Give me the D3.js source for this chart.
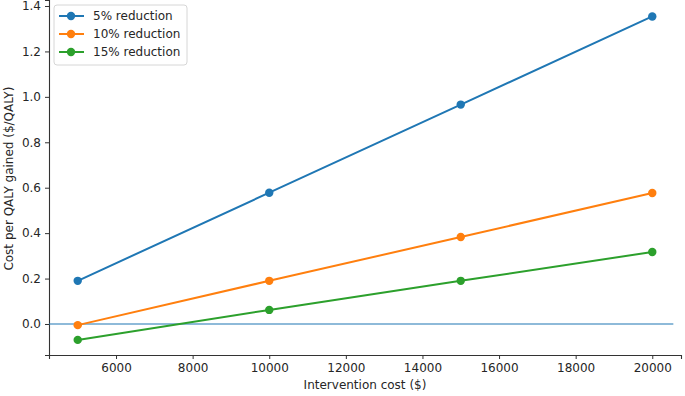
<!DOCTYPE html>
<html>
<head>
<meta charset="utf-8">
<script src="https://cdn.jsdelivr.net/npm/d3@7"></script>
<style>
  body { margin: 0; background: #fff; }
  text { font-family: "DejaVu Sans", sans-serif; fill: #262626; }
</style>
</head>
<body>
<svg width="685" height="396"></svg>
<script>
// data
const costs = [5000, 10000, 15000, 20000];
const seriesNames = ['5% reduction', '10% reduction', '15% reduction'];
const reduction5 = [0.19, 0.578, 0.966, 1.354];
const reduction10 = [-0.005, 0.19, 0.383, 0.577];
const reduction15 = [-0.07, 0.062, 0.19, 0.317];
const colors = ['#1f77b4', '#ff7f0e', '#2ca02c'];
const xTicks = [6000, 8000, 10000, 12000, 14000, 16000, 18000, 20000];
const yTicks = [0.0, 0.2, 0.4, 0.6, 0.8, 1.0, 1.2, 1.4];
const zeroLine = [4250, 20550];

const series = [reduction5, reduction10, reduction15];

const svg = d3.select('svg');
const margin = { top: 0, left: 49, right: 4, bottom: 41 };
const width = +svg.attr('width');
const height = +svg.attr('height');

const x = d3.scaleLinear()
  .domain([4250, 20750])
  .range([margin.left, width - margin.right]);
const y = d3.scaleLinear()
  .domain([-0.1365, 1.4264])
  .range([height - margin.bottom, margin.top]);

// axes
const xAxis = svg.append('g')
  .attr('transform', `translate(0,${height - margin.bottom})`)
  .call(d3.axisBottom(x).tickValues(xTicks).tickFormat(d3.format('d')).tickSizeOuter(0).tickSize(4).tickPadding(4));
const yAxis = svg.append('g')
  .attr('transform', `translate(${margin.left},0)`)
  .call(d3.axisLeft(y).tickValues(yTicks).tickFormat(d3.format('.1f')).tickSizeOuter(0).tickSize(4).tickPadding(4));

[xAxis, yAxis].forEach(a => {
  a.selectAll('text').style('font-size', '12px').style('font-family', 'DejaVu Sans, sans-serif').attr('fill', '#262626');
  a.selectAll('line').attr('stroke', '#333');
  a.select('.domain').attr('stroke', '#333').attr('stroke-width', 1.1);
});

// zero reference line
svg.append('line')
  .attr('x1', x(zeroLine[0]))
  .attr('x2', x(zeroLine[1]))
  .attr('y1', y(0))
  .attr('y2', y(0))
  .attr('stroke', colors[0])
  .attr('stroke-width', 1.2);

// series lines and markers
const line = d3.line()
  .x((d, i) => x(costs[i]))
  .y(d => y(d));

series.forEach((vals, s) => {
  svg.append('path')
    .datum(vals)
    .attr('d', line)
    .attr('fill', 'none')
    .attr('stroke', colors[s])
    .attr('stroke-width', 2);
  svg.selectAll('.pt' + s)
    .data(vals)
    .enter().append('circle')
    .attr('cx', (d, i) => x(costs[i]))
    .attr('cy', d => y(d))
    .attr('r', 4.2)
    .attr('fill', colors[s]);
});

// axis labels
svg.append('text')
  .attr('x', 365)
  .attr('y', 389)
  .attr('text-anchor', 'middle')
  .style('font-size', '12px')
  .text('Intervention cost ($)');
svg.append('text')
  .attr('transform', `translate(13,${y(0.64)}) rotate(-90)`)
  .attr('text-anchor', 'middle')
  .style('font-size', '12px')
  .text('Cost per QALY gained ($/QALY)');

// legend
const legend = svg.append('g').attr('transform', 'translate(54,5)');
legend.append('rect')
  .attr('width', 133)
  .attr('height', 60)
  .attr('rx', 3)
  .attr('fill', '#fff')
  .attr('fill-opacity', 0.8)
  .attr('stroke', '#d6d6d6');
seriesNames.forEach((name, i) => {
  const row = legend.append('g').attr('transform', `translate(0,${11 + i * 18})`);
  row.append('line')
    .attr('x1', 5).attr('x2', 30)
    .attr('stroke', colors[i]).attr('stroke-width', 2);
  row.append('circle')
    .attr('cx', 17).attr('r', 4.2).attr('fill', colors[i]);
  row.append('text')
    .attr('x', 39)
    .attr('dy', '0.35em')
    .style('font-size', '12px')
    .text(name);
});
</script>
</body>
</html>
